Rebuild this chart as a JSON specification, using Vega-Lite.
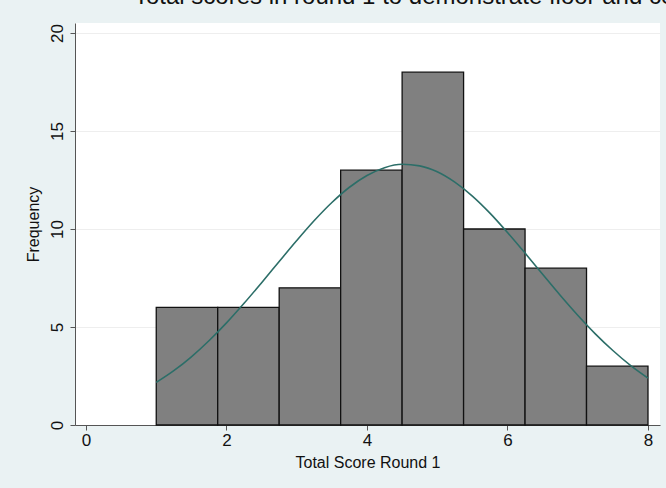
{
  "$schema": "https://vega.github.io/schema/vega-lite/v6.json",
  "autosize": "none",
  "width": 585,
  "height": 402,
  "padding": {"left": 75, "top": 23, "right": 6, "bottom": 63},
  "background": "#eaf2f3",
  "title": {
    "text": "Total scores in round 1 to demonstrate floor and ceiling effects",
    "anchor": "start",
    "orient": "top",
    "dx": 109,
    "dy": 4,
    "offset": -1,
    "fontSize": 24,
    "font": "Liberation Sans",
    "fontWeight": "normal",
    "color": "#111111",
    "baseline": "alphabetic"
  },
  "config": {
    "view": {"fill": "white", "stroke": null},
    "axis": {
      "labelFont": "Liberation Sans",
      "titleFont": "Liberation Sans",
      "labelColor": "#111111",
      "titleColor": "#111111",
      "titleFontWeight": "normal",
      "domainColor": "#555555",
      "tickColor": "#555555",
      "tickSize": 5,
      "labelFontSize": 17,
      "titleFontSize": 16
    }
  },
  "layer": [
    {
      "data": {
        "values": [
          {"bin_start": 1.0, "bin_end": 1.875, "count": 6},
          {"bin_start": 1.875, "bin_end": 2.75, "count": 6},
          {"bin_start": 2.75, "bin_end": 3.625, "count": 7},
          {"bin_start": 3.625, "bin_end": 4.5, "count": 13},
          {"bin_start": 4.5, "bin_end": 5.375, "count": 18},
          {"bin_start": 5.375, "bin_end": 6.25, "count": 10},
          {"bin_start": 6.25, "bin_end": 7.125, "count": 8},
          {"bin_start": 7.125, "bin_end": 8.0, "count": 3}
        ]
      },
      "mark": {"type": "bar", "fill": "#808080", "stroke": "#111111", "strokeWidth": 1.3},
      "encoding": {
        "x": {
          "field": "bin_start",
          "type": "quantitative",
          "scale": {"domain": [-0.1566, 8.171], "nice": false, "zero": false},
          "axis": {
            "values": [0, 2, 4, 6, 8],
            "title": "Total Score Round 1",
            "grid": false,
            "labelPadding": 2,
            "titlePadding": 6,
            "format": "d"
          }
        },
        "x2": {"field": "bin_end"},
        "y": {
          "field": "count",
          "type": "quantitative",
          "scale": {"domain": [0, 20.51], "nice": false},
          "axis": {
            "values": [0, 5, 10, 15, 20],
            "title": "Frequency",
            "grid": true,
            "gridColor": "#eeeeee",
            "gridWidth": 1,
            "labelAngle": 270,
            "labelAlign": "center",
            "labelBaseline": "bottom",
            "labelPadding": 4,
            "titlePadding": 7
          }
        },
        "y2": {"datum": 0}
      }
    },
    {
      "data": {
        "values": [
          {"x": 1.0, "y": 2.17},
          {"x": 1.25, "y": 2.77},
          {"x": 1.5, "y": 3.48},
          {"x": 1.75, "y": 4.3},
          {"x": 2.0, "y": 5.21},
          {"x": 2.25, "y": 6.21},
          {"x": 2.5, "y": 7.26},
          {"x": 2.75, "y": 8.34},
          {"x": 3.0, "y": 9.41},
          {"x": 3.25, "y": 10.43},
          {"x": 3.5, "y": 11.35},
          {"x": 3.75, "y": 12.13},
          {"x": 4.0, "y": 12.73},
          {"x": 4.25, "y": 13.13},
          {"x": 4.5, "y": 13.3},
          {"x": 4.75, "y": 13.22},
          {"x": 5.0, "y": 12.92},
          {"x": 5.25, "y": 12.39},
          {"x": 5.5, "y": 11.68},
          {"x": 5.75, "y": 10.81},
          {"x": 6.0, "y": 9.82},
          {"x": 6.25, "y": 8.77},
          {"x": 6.5, "y": 7.69},
          {"x": 6.75, "y": 6.62},
          {"x": 7.0, "y": 5.6},
          {"x": 7.25, "y": 4.65},
          {"x": 7.5, "y": 3.8},
          {"x": 7.75, "y": 3.04},
          {"x": 8.0, "y": 2.39}
        ]
      },
      "mark": {"type": "line", "color": "#2c6e68", "strokeWidth": 1.6, "interpolate": "monotone"},
      "encoding": {
        "x": {"field": "x", "type": "quantitative"},
        "y": {"field": "y", "type": "quantitative"}
      }
    }
  ]
}
